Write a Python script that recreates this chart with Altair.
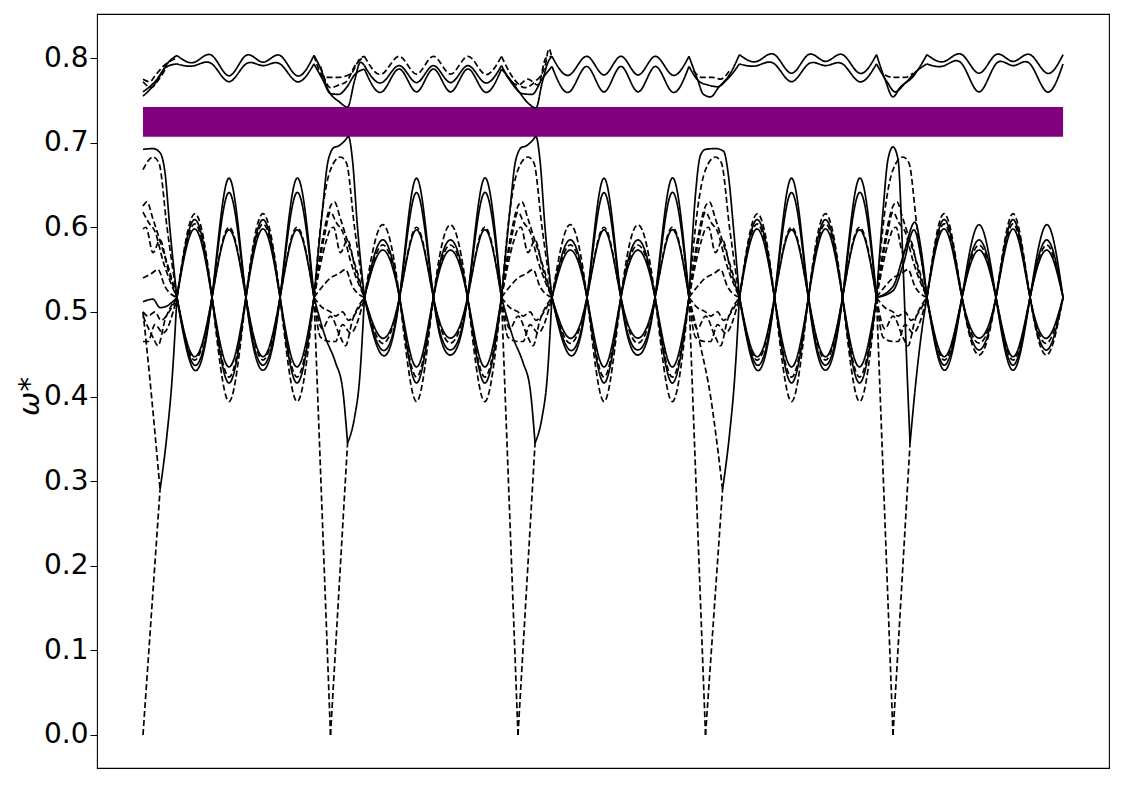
import altair as alt
import pandas as pd

# ---------------- values ----------------
# path coordinate: one unit per path segment (segments start at 0,1,2,3,4)
SEG_STARTS = [0, 1, 2, 3, 4]
X_END = 4.907
X_DOMAIN = [-0.2453, 5.152]
Y_DOMAIN = [-0.039, 0.852]
Y_TICKS = [0.0, 0.1, 0.2, 0.3, 0.4, 0.5, 0.6, 0.7, 0.8]

# gap band (purple)
GAP_LOW = 0.707
GAP_HIGH = 0.742

# middle band: crossing points and lobe centres inside each segment
CROSS_OFF = [0.181, 0.368, 0.549, 0.731, 0.912]
CENTER_OFF = [0.275, 0.459, 0.640, 0.821]
CROSS_Y = 0.517
LOBE_TYPES = [["m", "b", "m", "b"], ["s", "b", "s", "b"], ["s", "b", "s", "b"],
              ["m", "b", "m", "b"], ["m", "s", "m", "s"]]
LOBE_UPPER = {"m": [0.616, 0.609, 0.604, 0.598],
              "s": [0.603, 0.585, 0.579, 0.573],
              "b": [0.658, 0.641, 0.600, 0.597]}
LOBE_LOWER = {"m": [0.431, 0.437, 0.443, 0.447],
              "s": [0.449, 0.455, 0.463, 0.469],
              "b": [0.394, 0.416, 0.423, 0.435]}
FAM_U_STYLE = ["dashed", "solid", "dashed", "solid"]
FAM_L_STYLE = ["solid", "solid", "dashed", "solid"]

# clutter around every segment boundary (offsets from the boundary)
GEN_DASHED_OFFS = [
    [-0.088, -0.043, 0.0, 0.053, 0.085, 0.128, 0.181],
    [-0.088, -0.043, 0.0, 0.021, 0.053, 0.096, 0.139, 0.181],
    [-0.088, -0.032, 0.0, 0.032, 0.064, 0.107, 0.181],
    [-0.088, -0.021, 0.0, 0.016, 0.053, 0.091, 0.133, 0.181],
    [-0.088, -0.043, 0.0, 0.043, 0.080, 0.117, 0.181],
    [-0.088, -0.043, 0.0, 0.027, 0.064, 0.096, 0.139, 0.181],
    [-0.088, -0.053, 0.0, 0.027, 0.064, 0.107, 0.181],
    [-0.088, -0.043, 0.0, 0.053, 0.080, 0.117, 0.181],
]
GEN_DASHED_VALS = [
    [0.517, 0.620, 0.668, 0.683, 0.676, 0.600, 0.517],
    [0.517, 0.585, 0.625, 0.630, 0.610, 0.580, 0.550, 0.517],
    [0.517, 0.590, 0.618, 0.605, 0.595, 0.560, 0.517],
    [0.517, 0.585, 0.598, 0.600, 0.570, 0.585, 0.550, 0.517],
    [0.517, 0.530, 0.540, 0.545, 0.550, 0.530, 0.517],
    [0.517, 0.505, 0.500, 0.495, 0.500, 0.490, 0.500, 0.517],
    [0.517, 0.470, 0.465, 0.465, 0.485, 0.475, 0.517],
    [0.517, 0.480, 0.495, 0.470, 0.460, 0.490, 0.517],
]

# high solid band near each boundary
HIGH_OFFS = [
    [0.0, 0.053, 0.091, 0.117, 0.144, 0.181],
    [-0.088, -0.043, -0.016, 0.0, 0.016, 0.043, 0.075, 0.096, 0.117, 0.144, 0.181],
    [-0.088, -0.043, -0.016, 0.0, 0.016, 0.043, 0.075, 0.096, 0.117, 0.144, 0.181],
    [-0.088, -0.053, -0.027, 0.0, 0.053, 0.096, 0.123, 0.149, 0.181],
    [-0.088, -0.053, -0.027, 0.0, 0.027, 0.053, 0.075, 0.091],
]
HIGH_VALS = [
    [0.692, 0.693, 0.688, 0.665, 0.597, 0.517],
    [0.517, 0.620, 0.675, 0.688, 0.694, 0.696, 0.702, 0.707, 0.680, 0.600, 0.517],
    [0.517, 0.620, 0.675, 0.688, 0.694, 0.696, 0.702, 0.707, 0.680, 0.600, 0.517],
    [0.517, 0.640, 0.685, 0.692, 0.693, 0.690, 0.660, 0.600, 0.517],
    [0.517, 0.620, 0.680, 0.695, 0.680, 0.560, 0.430, 0.345],
]

# lowest (acoustic) band and the V just after each boundary
V_OFF = 0.091
V_BOTTOM = [0.290, 0.345, 0.345, 0.290, 0.345]
V_LEFT_STYLE = ["dashed", "solid", "solid", "dashed", "none"]
V_LEFT_OFFS = [
    [0.0, 0.037, 0.091],
    [-0.088, -0.027, 0.027, 0.064, 0.091],
    [-0.088, -0.027, 0.027, 0.064, 0.091],
    [-0.088, -0.027, 0.027, 0.064, 0.091],
    [],
]
V_LEFT_VALS = [
    [0.500, 0.420, 0.290],
    [0.517, 0.470, 0.440, 0.410, 0.345],
    [0.517, 0.470, 0.440, 0.410, 0.345],
    [0.517, 0.460, 0.400, 0.340, 0.290],
    [],
]
V_RIGHT_OFFS = [0.091, 0.128, 0.155, 0.181]
V_RIGHT_VALS = [
    [0.290, 0.355, 0.420, 0.517],
    [0.345, 0.375, 0.420, 0.517],
    [0.345, 0.375, 0.420, 0.517],
    [0.290, 0.355, 0.420, 0.517],
    [0.345, 0.430, 0.480, 0.517],
]

# extra pieces
FLAT0_OFFS = [0.0, 0.053, 0.091, 0.128, 0.181]
FLAT0_VALS = [0.512, 0.515, 0.505, 0.507, 0.517]
BUMP4_OFFS = [[-0.088, 0.0, 0.053, 0.117, 0.149, 0.181],
              [-0.088, 0.0, 0.053, 0.112, 0.149, 0.181]]
BUMP4_VALS = [[0.517, 0.530, 0.565, 0.606, 0.575, 0.517],
              [0.517, 0.525, 0.555, 0.597, 0.565, 0.517]]

# top band (above the gap): per segment (style, value at crossings, lobe centres)
TOP_LOBES = [
    [("solid", 0.803, [0.795, 0.779, 0.795, 0.779]), ("solid", 0.793, [0.791, 0.772, 0.791, 0.772])],
    [("dashed", 0.802, [0.781, 0.781, 0.781, 0.781]), ("solid", 0.791, [0.771, 0.771, 0.771, 0.771]),
     ("solid", 0.787, [0.760, 0.760, 0.760, 0.760])],
    [("solid", 0.802, [0.780, 0.780, 0.780, 0.780]), ("solid", 0.790, [0.760, 0.760, 0.760, 0.760])],
    [("solid", 0.804, [0.796, 0.782, 0.796, 0.782]), ("solid", 0.793, [0.791, 0.772, 0.791, 0.772])],
    [("solid", 0.804, [0.796, 0.782, 0.796, 0.782]), ("solid", 0.793, [0.791, 0.760, 0.791, 0.760])],
]
# top band around boundaries: (boundary, style, offsets, values)
TOP_PIECES = [
    (0, "solid", [0.0, 0.075, 0.128, 0.181], [0.755, 0.773, 0.793, 0.803]),
    (0, "solid", [0.0, 0.064, 0.128, 0.181], [0.760, 0.772, 0.790, 0.793]),
    (0, "dashed", [0.0, 0.037, 0.064, 0.107, 0.181], [0.775, 0.772, 0.779, 0.790, 0.800]),
    (0, "dashed", [0.0, 0.043, 0.085, 0.128], [0.772, 0.765, 0.775, 0.790]),
    (1, "solid", [-0.088, -0.048, -0.016, 0.048, 0.091, 0.128, 0.160, 0.181],
     [0.803, 0.785, 0.764, 0.748, 0.742, 0.773, 0.795, 0.791]),
    (1, "solid", [-0.088, -0.043, 0.0, 0.043, 0.085, 0.128, 0.181],
     [0.793, 0.775, 0.758, 0.757, 0.765, 0.780, 0.787]),
    (1, "dashed", [-0.088, -0.032, 0.037, 0.107, 0.160, 0.181],
     [0.803, 0.777, 0.777, 0.781, 0.800, 0.802]),
    (1, "dashed", [-0.053, 0.0, 0.043, 0.085, 0.128, 0.181],
     [0.790, 0.765, 0.768, 0.772, 0.790, 0.802]),
    (2, "solid", [-0.088, -0.043, 0.0, 0.048, 0.096, 0.128, 0.160, 0.181],
     [0.787, 0.775, 0.762, 0.748, 0.741, 0.770, 0.795, 0.802]),
    (2, "solid", [-0.088, -0.032, 0.021, 0.075, 0.128, 0.181],
     [0.791, 0.770, 0.758, 0.757, 0.775, 0.790]),
    (2, "dashed", [-0.088, -0.021, 0.037, 0.091, 0.144, 0.165, 0.181],
     [0.802, 0.775, 0.765, 0.772, 0.790, 0.811, 0.800]),
    (2, "dashed", [-0.064, 0.0, 0.053, 0.107, 0.149, 0.181],
     [0.780, 0.768, 0.775, 0.768, 0.800, 0.802]),
    (3, "solid", [-0.088, -0.043, -0.011, 0.027, 0.069, 0.133, 0.181],
     [0.802, 0.775, 0.757, 0.754, 0.765, 0.782, 0.804]),
    (3, "solid", [-0.088, -0.032, 0.016, 0.064, 0.117, 0.181],
     [0.790, 0.772, 0.768, 0.766, 0.775, 0.793]),
    (3, "dashed", [-0.064, -0.021, 0.037, 0.080, 0.128],
     [0.785, 0.777, 0.777, 0.775, 0.785]),
    (4, "solid", [-0.088, -0.043, 0.0, 0.037, 0.107, 0.181],
     [0.804, 0.775, 0.754, 0.765, 0.778, 0.804]),
    (4, "solid", [-0.088, -0.032, 0.011, 0.064, 0.128, 0.181],
     [0.793, 0.772, 0.760, 0.770, 0.785, 0.793]),
    (4, "dashed", [-0.043, 0.0, 0.064, 0.107],
     [0.780, 0.777, 0.777, 0.782]),
]

# ---------------- build tables ----------------
rows_nat, rows_mono = [], []
_sid = [0]


def add(rows, style, xs, ys):
    _sid[0] += 1
    for i, (x, y) in enumerate(zip(xs, ys)):
        rows.append({"s": _sid[0], "style": style, "i": i, "x": x, "y": y})


def seg_cross(k):
    b = SEG_STARTS[k]
    cx = [b + o for o in CROSS_OFF]
    cx[-1] = min(cx[-1], X_END)
    return cx, [b + o for o in CENTER_OFF]


# middle-band lobes
for k in range(len(SEG_STARTS)):
    cx, mx = seg_cross(k)
    types = LOBE_TYPES[k]
    for fam, styles in (("U", FAM_U_STYLE), ("L", FAM_L_STYLE)):
        for i in range(4):
            xs, ys = [cx[0]], [CROSS_Y]
            for j in range(4):
                up = (j % 2 == 0) == (fam == "U")
                v = LOBE_UPPER[types[j]][i] if up else LOBE_LOWER[types[j]][i]
                xs += [mx[j], cx[j + 1]]
                ys += [v, CROSS_Y]
            add(rows_nat, styles[i], xs, ys)

# top-band lobes
for k in range(len(SEG_STARTS)):
    cx, mx = seg_cross(k)
    for style, cv, centres in TOP_LOBES[k]:
        xs, ys = [cx[0]], [cv]
        for j in range(4):
            xs += [mx[j], cx[j + 1]]
            ys += [centres[j], cv]
        add(rows_nat, style, xs, ys)

# boundary pieces
for k, b in enumerate(SEG_STARTS):
    for offs, vals in zip(GEN_DASHED_OFFS, GEN_DASHED_VALS):
        pts = [(b + o, v) for o, v in zip(offs, vals) if k > 0 or o >= 0]
        add(rows_mono, "dashed", [p[0] for p in pts], [p[1] for p in pts])
    add(rows_mono, "solid", [b + o for o in HIGH_OFFS[k]], HIGH_VALS[k])
    vb = V_BOTTOM[k]
    if k > 0:
        add(rows_mono, "dashed", [b - 0.088, b], [CROSS_Y, 0.0])
    add(rows_mono, "dashed", [b, b + V_OFF], [0.0, vb])
    if V_LEFT_OFFS[k]:
        add(rows_mono, V_LEFT_STYLE[k], [b + o for o in V_LEFT_OFFS[k]], V_LEFT_VALS[k])
    add(rows_mono, "solid", [b + o for o in V_RIGHT_OFFS], V_RIGHT_VALS[k])

add(rows_mono, "solid", [SEG_STARTS[0] + o for o in FLAT0_OFFS], FLAT0_VALS)
for offs, vals in zip(BUMP4_OFFS, BUMP4_VALS):
    add(rows_mono, "solid", [SEG_STARTS[4] + o for o in offs], vals)

for k, style, offs, vals in TOP_PIECES:
    add(rows_mono, style, [SEG_STARTS[k] + o for o in offs], vals)

df_nat = pd.DataFrame(rows_nat)
df_mono = pd.DataFrame(rows_mono)
df_gap = pd.DataFrame({"x": [0.0], "x2": [X_END], "y": [GAP_LOW], "y2": [GAP_HIGH]})

# ---------------- chart ----------------
xs = alt.Scale(domain=X_DOMAIN, nice=False, zero=False)
ys = alt.Scale(domain=Y_DOMAIN, nice=False, zero=False)
dash = alt.StrokeDash("style:N", scale=alt.Scale(domain=["solid", "dashed"],
                                                 range=[[1, 0], [6, 3]]), legend=None)

yaxis = alt.Axis(values=Y_TICKS, format=".1f", title="ω*", grid=False, domain=False,
                 tickSize=7, tickColor="black", tickWidth=1, labelPadding=2,
                 labelFontSize=28, labelFont="DejaVu Sans", labelColor="black",
                 titleFontSize=29, titleFont="DejaVu Sans", titleFontWeight="normal",
                 titleFontStyle="italic", titleColor="black", titleAngle=270,
                 titleX=-53, titleY=382, titleBaseline="bottom", titleAlign="center")

gap = alt.Chart(df_gap).mark_rect(color="#800080").encode(
    x=alt.X("x:Q", scale=xs, axis=None), x2="x2:Q",
    y=alt.Y("y:Q", scale=ys, axis=yaxis), y2="y2:Q")


def lines(df, interp):
    return alt.Chart(df).mark_line(color="black", strokeWidth=1.7, interpolate=interp).encode(
        x=alt.X("x:Q", scale=xs, axis=None),
        y=alt.Y("y:Q", scale=ys, axis=yaxis),
        detail="s:N", order="i:Q", strokeDash=dash)


chart = alt.layer(gap, lines(df_nat, "natural"), lines(df_mono, "monotone")).properties(
    width=1012, height=754,
    background="white",
    autosize=alt.AutoSizeParams(type="none"),
    padding={"left": 89, "top": 6, "right": 8, "bottom": 9},
).configure_view(stroke="black", strokeWidth=1.1, strokeOpacity=1)

chart.save("out.html", embed_options={"renderer": "svg", "actions": False})
